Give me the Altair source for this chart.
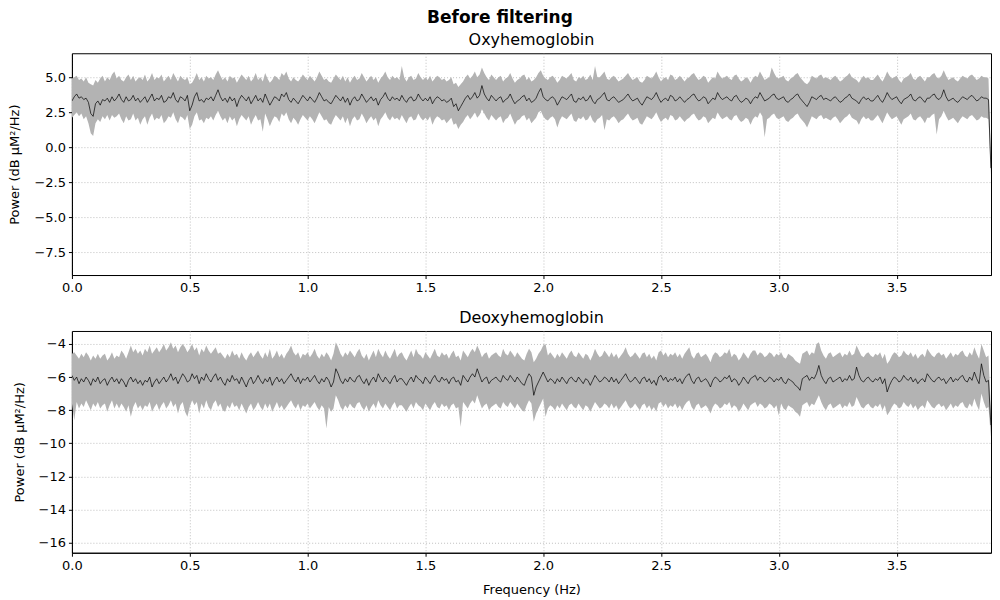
import altair as alt
import pandas as pd

# Power spectral density, one value every 0.01 Hz from 0.00 to 3.90 Hz (dB uM^2/Hz)
# ---------------- Oxyhemoglobin ----------------
oxy_mean = [
    3.3, 3.6, 3.8, 3.5, 3.6, 3.4, 3.5, 3.2, 2.4, 2.2,
    3.1, 3.3, 3.0, 3.4, 3.3, 3.5, 3.2, 3.6, 3.3, 3.5,
    3.8, 3.4, 3.2, 3.6, 3.3, 3.4, 3.7, 3.3, 3.5, 3.2,
    3.4, 3.6, 3.2, 3.5, 3.8, 3.3, 3.5, 3.4, 3.7, 3.2,
    3.3, 3.6, 3.5, 3.9, 3.4, 3.2, 3.6, 3.5, 3.3, 3.7,
    2.6, 3.0, 3.6, 3.9, 3.3, 3.4, 3.2, 3.5, 3.4, 3.6,
    3.3, 3.7, 4.1, 3.6, 3.3, 3.5, 3.2, 3.6, 3.3, 3.5,
    2.9, 3.4, 3.7, 3.5, 3.3, 3.6, 3.1, 3.4, 3.7, 3.3,
    3.5, 3.2, 3.8, 3.4, 3.0, 3.3, 3.6, 3.5, 3.3, 3.8,
    3.6, 3.9, 3.4, 3.2, 3.5, 3.3, 3.1, 3.4, 3.7, 3.5,
    3.3, 3.6, 3.4, 3.2, 3.5, 3.9, 3.6, 3.3, 3.4, 3.2,
    3.1, 3.4, 3.7, 3.5, 3.3, 3.6, 3.2, 3.5, 3.0, 3.4,
    3.6, 3.3, 3.4, 3.8, 3.5, 3.2, 3.4, 3.6, 3.3, 3.5,
    3.0, 3.4, 3.6, 3.9, 3.5, 3.3, 3.6, 3.4, 3.5, 3.3,
    3.7, 3.4, 3.2, 3.5, 3.6, 3.3, 3.4, 3.8, 3.5, 3.3,
    3.5, 3.3, 3.6, 3.1, 3.4, 3.6, 3.5, 3.3, 3.4, 3.2,
    3.3, 3.5, 2.9, 3.1, 2.6, 2.9, 3.2, 3.5, 3.7, 3.4,
    3.6, 3.9, 3.5, 3.7, 4.4, 3.8, 3.5, 3.3, 3.7, 3.5,
    3.3, 3.5, 3.6, 3.2, 3.4, 3.5, 3.8, 3.4, 3.1, 3.3,
    3.4, 3.6, 3.7, 3.3, 3.5, 3.2, 3.3, 3.5, 3.9, 4.2,
    3.6, 3.4, 3.3, 3.5, 3.6, 3.4, 3.0, 3.3, 3.6, 3.5,
    3.4, 3.6, 3.8, 3.3, 3.2, 3.5, 3.4, 3.6, 3.3, 3.4,
    3.7, 3.3, 3.1, 3.4, 3.5, 3.7, 3.9, 3.4, 3.3, 3.5,
    3.6, 3.4, 3.2, 3.3, 3.4, 3.6, 3.8, 3.5, 3.3, 3.4,
    3.5, 3.2, 3.0, 3.3, 3.6, 3.5, 3.4, 3.6, 3.9, 3.5,
    3.2, 3.4, 3.5, 3.3, 3.7, 3.6, 3.3, 3.4, 3.6, 3.4,
    3.2, 3.4, 3.5, 3.7, 3.8, 3.5, 3.3, 3.4, 3.6, 3.5,
    3.1, 3.3, 3.5, 3.4, 3.9, 3.6, 3.4, 3.5, 3.6, 3.4,
    3.3, 3.6, 3.7, 3.4, 3.2, 3.3, 3.5, 3.4, 3.1, 3.4,
    3.6, 3.5, 3.9, 3.6, 3.3, 3.4, 3.5, 3.7, 3.8, 3.5,
    3.4, 3.5, 3.6, 3.3, 3.2, 3.4, 3.5, 3.7, 3.8, 3.5,
    3.3, 3.1, 2.9, 3.2, 3.6, 3.5, 3.4, 3.6, 3.7, 3.4,
    3.5, 3.4, 3.3, 3.5, 3.6, 3.4, 3.2, 3.3, 3.5, 3.6,
    3.8, 3.5, 3.4, 3.3, 3.1, 3.4, 3.6, 3.4, 3.5, 3.3,
    3.3, 3.5, 3.7, 3.4, 3.2, 3.5, 3.9, 3.6, 3.4, 3.5,
    3.6, 3.3, 3.1, 3.4, 3.5, 3.6, 3.8, 3.4, 3.3, 3.5,
    3.6, 3.4, 3.2, 3.5, 3.5, 3.7, 3.8, 3.5, 3.4, 3.6,
    4.1, 3.6, 3.3, 3.4, 3.5, 3.3, 3.2, 3.4, 3.6, 3.5,
    3.4, 3.6, 3.7, 3.5, 3.3, 3.4, 3.6, 3.5, 3.5, 3.4,
    -1.5,
]
oxy_high = [
    4.9, 5.0, 5.1, 4.8, 4.9, 4.7, 5.0, 4.6, 4.5, 4.4,
    4.8, 4.6, 4.9, 5.1, 4.7, 5.0, 4.8, 5.2, 5.4, 4.9,
    5.1, 4.8, 4.7, 5.0, 5.2, 4.8, 5.1, 4.7, 4.9, 5.0,
    4.8, 5.2, 4.7, 4.9, 5.3, 4.8, 5.0, 4.9, 5.2, 4.7,
    4.9, 5.1, 4.8, 5.3, 5.0, 4.7, 5.1, 4.9, 4.8, 5.0,
    4.5, 4.6, 4.9, 5.3, 4.8, 5.0, 4.7, 5.1, 4.9, 5.0,
    4.8, 5.2, 5.5, 5.1, 4.8, 5.0, 4.7, 5.1, 4.9, 5.0,
    4.6, 4.9, 5.2, 5.0, 4.8, 5.1, 4.7, 4.9, 5.3, 4.8,
    5.0, 4.7, 5.3, 4.9, 4.6, 4.8, 5.1, 5.0, 4.8, 5.3,
    5.1, 5.4, 4.9, 4.7, 5.0, 4.8, 4.7, 4.9, 5.2, 5.0,
    4.8, 5.1, 4.9, 4.7, 5.0, 5.4, 5.1, 4.8, 4.9, 4.7,
    4.6, 4.9, 5.2, 5.0, 4.8, 5.1, 4.7, 5.0, 4.6, 4.9,
    5.1, 4.8, 4.9, 5.3, 5.0, 4.7, 4.9, 5.1, 4.8, 5.0,
    4.6, 4.9, 5.1, 5.4, 5.0, 4.8, 5.1, 4.9, 5.0, 4.8,
    5.8, 5.0, 4.7, 5.0, 5.1, 4.8, 4.9, 5.3, 5.0, 4.8,
    5.0, 4.8, 5.1, 4.7, 4.9, 5.1, 5.0, 4.8, 4.9, 4.7,
    4.8, 5.0, 4.5, 4.6, 4.3, 4.5, 4.7, 5.0, 5.2, 4.9,
    5.1, 5.4, 5.0, 5.2, 5.7, 5.3, 5.0, 4.8, 5.2, 5.0,
    4.8, 5.0, 5.1, 4.7, 4.9, 5.0, 5.3, 4.9, 4.6, 4.8,
    4.9, 5.1, 5.2, 4.8, 5.0, 4.7, 4.8, 5.0, 5.3, 5.5,
    5.1, 4.9, 4.8, 5.0, 5.1, 4.9, 4.6, 4.8, 5.1, 5.0,
    4.9, 5.1, 5.3, 4.8, 4.7, 5.0, 4.9, 5.1, 4.8, 4.9,
    5.2, 4.8, 5.8, 5.0, 5.0, 5.2, 5.4, 4.9, 4.8, 5.0,
    5.1, 4.9, 4.7, 4.8, 4.9, 5.1, 5.3, 5.0, 4.8, 4.9,
    5.0, 4.7, 4.6, 4.8, 5.1, 5.0, 4.9, 5.1, 5.4, 5.0,
    4.7, 4.9, 5.0, 4.8, 5.2, 5.1, 4.8, 4.9, 5.1, 4.9,
    4.7, 4.9, 5.0, 5.2, 5.3, 5.0, 4.8, 4.9, 5.1, 5.0,
    4.6, 4.8, 5.0, 4.9, 5.4, 5.1, 4.9, 5.0, 5.1, 4.9,
    4.8, 5.1, 5.2, 4.9, 4.7, 4.8, 5.0, 4.9, 4.6, 4.9,
    5.1, 5.0, 5.4, 5.1, 4.8, 4.9, 5.0, 5.7, 5.3, 5.0,
    4.9, 5.0, 5.1, 4.8, 4.7, 4.9, 5.0, 5.2, 5.3, 5.0,
    4.8, 4.6, 4.5, 4.7, 5.1, 5.0, 4.9, 5.1, 5.2, 4.9,
    5.0, 4.9, 4.8, 5.0, 5.1, 4.9, 4.7, 4.8, 5.0, 5.1,
    5.3, 5.0, 4.9, 4.8, 4.6, 4.9, 5.1, 4.9, 5.0, 4.8,
    4.8, 5.0, 5.2, 4.9, 4.7, 5.0, 5.4, 5.1, 4.9, 5.0,
    5.1, 4.8, 4.6, 4.9, 5.0, 5.1, 5.3, 4.9, 4.8, 5.0,
    5.1, 4.9, 4.7, 5.0, 5.0, 5.2, 5.3, 5.0, 4.9, 5.1,
    5.5, 5.1, 4.8, 4.9, 5.0, 4.8, 4.7, 4.9, 5.1, 5.0,
    4.9, 5.1, 5.2, 5.0, 4.8, 4.9, 5.1, 5.0, 5.0, 4.9,
    -1.0,
]
oxy_low = [
    2.1, 2.3, 2.5, 2.2, 2.4, 2.0, 2.2, 1.7, 1.0, 0.8,
    1.7, 2.0, 1.8, 2.2, 2.0, 2.3, 1.9, 2.3, 2.1, 2.2,
    2.4, 2.0, 1.7, 2.2, 1.9, 2.0, 2.4, 1.9, 2.1, 1.6,
    2.0, 2.2, 1.6, 2.1, 2.4, 1.9, 2.1, 2.0, 2.3, 1.7,
    1.9, 2.2, 2.1, 2.5, 2.0, 1.7, 2.2, 2.1, 1.9, 2.3,
    1.3, 1.6, 2.2, 2.5, 1.9, 2.0, 1.7, 2.1, 2.0, 2.2,
    1.9, 2.3, 2.6, 2.2, 1.9, 2.1, 1.7, 2.2, 1.9, 2.1,
    1.5, 2.0, 2.3, 2.1, 1.9, 2.2, 1.6, 2.0, 2.3, 1.9,
    2.0, 1.1, 2.4, 2.0, 1.5, 1.9, 2.2, 2.1, 1.8, 2.4,
    2.2, 2.5, 2.0, 1.7, 2.1, 1.9, 1.6, 2.0, 2.3, 2.1,
    1.9, 2.2, 2.0, 1.7, 2.1, 2.5, 2.2, 1.9, 2.0, 1.7,
    1.6, 2.0, 2.3, 2.1, 1.9, 2.2, 1.7, 2.1, 1.5, 2.0,
    2.2, 1.9, 2.0, 2.4, 2.1, 1.7, 2.0, 2.2, 1.9, 2.1,
    1.5, 2.0, 2.2, 2.5, 2.1, 1.9, 2.2, 2.0, 2.1, 1.9,
    2.3, 2.0, 1.7, 2.1, 2.2, 1.9, 2.0, 2.4, 2.1, 1.9,
    2.1, 1.9, 2.2, 1.6, 2.0, 2.2, 2.1, 1.9, 2.0, 1.7,
    1.9, 2.1, 1.6, 1.7, 1.3, 1.6, 1.8, 2.1, 2.3, 2.0,
    2.2, 2.5, 2.1, 2.3, 2.7, 2.4, 2.1, 1.9, 2.3, 2.1,
    1.9, 2.1, 2.2, 1.7, 2.0, 2.1, 2.4, 2.0, 1.6, 1.9,
    2.0, 2.2, 2.3, 1.9, 2.1, 1.7, 1.9, 2.1, 2.5, 2.6,
    2.2, 2.0, 1.9, 2.1, 2.2, 2.0, 1.4, 1.9, 2.2, 2.1,
    2.0, 2.2, 2.4, 1.9, 1.8, 2.1, 2.0, 2.2, 1.9, 2.0,
    2.3, 1.9, 1.7, 2.0, 2.1, 2.3, 1.2, 2.0, 1.9, 2.1,
    2.2, 2.0, 1.7, 1.9, 2.0, 2.2, 2.4, 2.1, 1.9, 2.0,
    2.1, 1.7, 1.6, 1.9, 2.2, 2.1, 2.0, 2.2, 2.5, 2.1,
    1.8, 2.0, 2.1, 1.9, 2.3, 2.2, 1.9, 2.0, 2.2, 2.0,
    1.8, 2.0, 2.1, 2.3, 2.4, 2.1, 1.9, 2.0, 2.2, 2.1,
    1.7, 1.9, 2.1, 2.0, 2.5, 2.2, 2.0, 2.1, 2.2, 2.0,
    1.9, 2.2, 2.3, 2.0, 1.8, 1.9, 2.1, 2.0, 1.6, 2.0,
    2.2, 2.1, 2.5, 2.2, 0.7, 2.0, 2.1, 2.3, 2.4, 2.1,
    2.0, 2.1, 2.2, 1.9, 1.8, 2.0, 2.1, 2.3, 2.4, 2.1,
    1.9, 1.7, 1.4, 1.8, 2.2, 2.1, 2.0, 2.2, 2.3, 2.0,
    2.1, 2.0, 1.9, 2.1, 2.2, 2.0, 1.7, 1.9, 2.1, 2.2,
    2.4, 2.1, 2.0, 1.9, 1.6, 2.0, 2.2, 2.0, 2.1, 1.9,
    1.9, 2.1, 2.3, 2.0, 1.7, 2.1, 2.5, 2.2, 2.0, 2.1,
    2.2, 1.9, 1.6, 2.0, 2.1, 2.2, 2.4, 2.0, 1.9, 2.1,
    2.2, 2.0, 1.7, 2.1, 2.1, 2.3, 2.4, 0.9, 2.0, 2.2,
    2.6, 2.2, 1.9, 2.0, 2.1, 1.9, 1.7, 2.0, 2.2, 2.1,
    2.0, 2.2, 2.3, 2.1, 1.9, 2.0, 2.2, 2.1, 2.1, 2.0,
    -2.0,
]

# ---------------- Deoxyhemoglobin ----------------
deoxy_mean = [
    -5.9, -6.2, -6.0, -6.4, -6.1, -6.3, -6.0, -6.2, -6.5, -6.1,
    -6.3, -6.0, -6.4, -6.2, -6.1, -6.5, -6.2, -6.0, -6.3, -6.1,
    -6.4, -6.1, -6.3, -6.6, -6.2, -6.0, -6.3, -6.1, -6.4, -6.2,
    -6.5, -6.2, -6.3, -6.0, -6.6, -6.3, -6.1, -6.4, -6.2, -6.0,
    -6.3, -6.1, -5.8, -6.2, -6.0, -6.4, -6.1, -5.8, -6.0, -6.3,
    -6.2, -5.8, -6.1, -5.9, -6.4, -6.0, -6.2, -5.8, -6.1, -6.3,
    -6.0, -5.8, -6.2, -6.0, -6.3, -6.5, -6.1, -6.3, -5.9, -6.2,
    -6.1, -6.4, -6.0, -6.3, -6.6, -6.2, -6.0, -6.4, -6.2, -5.9,
    -6.2, -6.4, -6.1, -6.3, -6.0, -6.5, -6.2, -6.0, -6.3, -6.1,
    -6.4, -6.2, -6.0, -5.8, -6.1, -6.3, -6.0, -6.4, -6.1, -6.2,
    -6.0, -6.3, -6.1, -5.9, -6.2, -6.4, -6.1, -6.3, -6.0, -6.2,
    -6.6, -6.3, -5.5, -5.8, -6.2, -6.4, -6.1, -6.3, -6.0, -6.2,
    -6.3, -6.0, -5.9, -6.2, -6.4, -6.1, -6.5, -6.2, -6.0, -6.3,
    -5.8, -6.1, -6.3, -6.0, -6.2, -6.4, -6.1, -5.9, -6.3, -6.1,
    -6.1, -6.3, -6.5, -6.2, -6.0, -6.3, -5.9, -6.1, -6.2, -6.4,
    -6.0, -6.2, -6.4, -6.1, -5.9, -6.2, -6.3, -6.0, -6.2, -6.1,
    -6.4, -6.1, -6.0, -6.3, -6.2, -6.5, -5.9, -6.1, -6.3, -6.0,
    -5.8, -6.0, -5.5, -5.9, -6.3, -6.1, -6.0, -6.4, -6.2, -6.1,
    -6.0, -6.2, -6.3, -5.9, -6.1, -6.2, -5.9, -6.1, -6.3, -6.0,
    -6.2, -6.4, -6.5, -6.1, -5.8, -6.0, -7.1, -6.6, -6.3, -6.0,
    -5.7, -6.0, -6.3, -6.1, -6.2, -6.4, -6.1, -6.3, -6.0, -6.2,
    -6.4, -6.1, -6.0, -6.2, -6.3, -6.0, -6.2, -6.4, -6.1, -6.2,
    -6.5, -6.2, -5.9, -6.1, -6.3, -6.2, -6.0, -6.1, -6.3, -6.0,
    -6.3, -6.1, -6.4, -6.2, -6.0, -5.8, -6.1, -6.3, -6.2, -6.0,
    -6.2, -6.4, -6.1, -6.0, -6.3, -6.1, -6.4, -6.2, -6.5, -6.0,
    -5.9, -6.2, -6.0, -6.3, -6.1, -6.2, -6.0, -6.3, -6.1, -6.4,
    -6.1, -5.9, -5.8, -6.2, -6.4, -6.1, -6.0, -6.3, -6.2, -6.1,
    -6.3, -6.6, -6.2, -6.0, -6.1, -6.3, -6.2, -6.0, -6.1, -5.9,
    -6.3, -6.1, -6.2, -6.5, -6.3, -6.0, -6.2, -6.4, -6.1, -6.0,
    -5.9, -6.2, -6.0, -6.1, -6.3, -6.2, -6.0, -6.1, -6.3, -6.1,
    -6.2, -6.0, -6.3, -6.4, -6.1, -6.2, -6.3, -6.5, -6.6, -6.8,
    -6.1, -6.0, -5.9, -6.2, -6.0, -6.1, -5.8, -5.3, -5.9, -6.2,
    -6.4, -6.1, -6.0, -6.3, -6.2, -6.1, -6.0, -6.3, -6.1, -6.2,
    -5.9, -6.2, -6.1, -5.4, -5.9, -6.2, -6.3, -6.1, -6.0, -6.2,
    -6.3, -6.1, -6.2, -6.0, -6.4, -6.1, -6.9, -6.5, -6.2, -6.0,
    -6.1, -6.3, -6.2, -5.9, -6.1, -6.2, -6.0, -6.3, -6.1, -6.4,
    -6.2, -6.1, -6.3, -5.8, -6.0, -6.2, -6.3, -6.1, -6.0, -6.2,
    -6.1, -6.4, -6.2, -6.0, -6.3, -6.1, -6.2, -6.0, -5.9, -6.2,
    -6.3, -6.0, -6.2, -5.7, -6.1, -6.4, -5.2, -5.9, -6.3, -6.2,
    -8.9,
]
deoxy_high = [
    -4.6, -4.5, -4.7, -4.9, -4.6, -4.8, -4.5, -4.7, -5.0, -4.7,
    -4.9, -4.6, -4.9, -4.7, -4.6, -5.0, -4.8, -4.5, -4.9, -4.7,
    -4.8, -4.4, -4.6, -4.9, -4.5, -4.1, -4.5, -4.3, -4.6, -4.4,
    -4.7, -4.3, -4.5, -4.1, -4.6, -4.4, -4.2, -4.5, -4.3, -4.0,
    -4.4, -4.2, -3.9, -4.3, -4.1, -4.5, -4.2, -4.0, -4.2, -4.5,
    -4.3, -4.0, -4.4, -4.2, -4.7, -4.3, -4.5, -4.1, -4.4, -4.6,
    -4.4, -4.2, -4.6, -4.5, -4.7, -4.9, -4.6, -4.8, -4.4, -4.7,
    -4.6, -4.9, -4.5, -4.8, -5.0, -4.7, -4.5, -4.8, -4.6, -4.4,
    -4.7, -4.9, -4.5, -4.8, -4.3, -4.9, -4.7, -4.4, -4.8, -4.6,
    -4.9, -4.6, -4.4, -4.1, -4.5, -4.7, -4.5, -4.9, -4.6, -4.7,
    -4.5, -4.8, -4.6, -4.3, -4.7, -4.9, -4.6, -4.8, -4.5, -4.7,
    -5.0, -4.6, -3.9, -4.2, -4.6, -4.8, -4.5, -4.7, -4.4, -4.6,
    -4.8, -4.5, -4.3, -4.7, -4.9, -4.6, -5.0, -4.7, -4.4, -4.8,
    -4.3, -4.6, -4.8, -4.4, -4.7, -4.9, -4.6, -4.3, -4.8, -4.6,
    -4.5, -4.8, -5.0, -4.7, -4.4, -4.8, -4.3, -4.6, -4.7, -4.9,
    -4.5, -4.7, -4.9, -4.6, -4.3, -4.7, -4.8, -4.5, -4.7, -4.6,
    -4.9, -4.6, -4.4, -4.8, -4.7, -5.0, -4.4, -4.6, -4.8, -4.5,
    -4.3, -4.5, -4.1, -4.4, -4.8, -4.6, -4.5, -4.9, -4.7, -4.6,
    -4.5, -4.7, -4.8, -4.3, -4.6, -4.7, -4.4, -4.6, -4.8, -4.5,
    -4.7, -4.9, -5.0, -4.6, -4.3, -4.5, -5.1, -4.9, -4.6, -4.4,
    -4.1, -4.0, -4.7, -4.5, -4.7, -4.9, -4.6, -4.8, -4.5, -4.7,
    -4.9, -4.6, -4.4, -4.7, -4.8, -4.5, -4.7, -4.9, -4.6, -4.7,
    -5.0, -4.7, -4.3, -4.6, -4.8, -4.7, -4.4, -4.6, -4.8, -4.5,
    -4.8, -4.6, -4.9, -4.7, -4.5, -4.2, -4.6, -4.8, -4.7, -4.5,
    -4.7, -4.9, -4.6, -4.5, -4.8, -4.6, -4.9, -4.7, -5.0, -4.5,
    -4.4, -4.7, -4.5, -4.8, -4.6, -4.7, -4.5, -4.8, -4.6, -4.9,
    -4.6, -4.4, -4.2, -4.7, -4.9, -4.6, -4.5, -4.8, -4.7, -4.6,
    -4.8, -5.1, -4.7, -4.5, -4.6, -4.8, -4.7, -4.5, -4.6, -4.3,
    -4.8, -4.6, -4.7, -5.0, -4.8, -4.5, -4.7, -4.9, -4.6, -4.4,
    -4.4, -4.7, -4.5, -4.6, -4.8, -4.7, -4.5, -4.6, -4.8, -4.6,
    -4.7, -4.5, -4.8, -4.9, -4.6, -4.7, -4.8, -5.0, -5.1, -5.2,
    -4.6, -4.5, -4.4, -4.7, -4.5, -4.6, -4.0, -3.9, -4.4, -4.7,
    -4.9, -4.6, -4.5, -4.8, -4.7, -4.6, -4.5, -4.8, -4.6, -4.7,
    -4.4, -4.7, -4.6, -4.1, -4.4, -4.7, -4.8, -4.6, -4.5, -4.7,
    -4.8, -4.6, -4.7, -4.5, -4.9, -4.6, -5.2, -5.0, -4.7, -4.5,
    -4.6, -4.8, -4.7, -4.4, -4.6, -4.7, -4.5, -4.8, -4.6, -4.9,
    -4.7, -4.6, -4.8, -4.3, -4.5, -4.7, -4.8, -4.6, -4.5, -4.7,
    -4.6, -4.9, -4.7, -4.5, -4.8, -4.6, -4.7, -4.5, -4.4, -4.7,
    -4.8, -4.5, -4.7, -4.2, -4.6, -4.9, -4.0, -4.4, -4.8, -4.7,
    -8.0,
]
deoxy_low = [
    -7.6, -8.6, -7.5, -7.9, -7.6, -7.8, -7.4, -7.7, -8.0, -7.6,
    -7.8, -7.5, -7.9, -7.7, -7.6, -8.1, -7.7, -7.4, -7.9, -7.6,
    -7.9, -7.6, -7.8, -8.1, -7.7, -8.4, -7.8, -7.5, -7.9, -7.7,
    -8.0, -7.7, -7.8, -7.5, -8.1, -7.8, -7.6, -8.0, -7.7, -7.5,
    -7.9, -7.7, -7.4, -7.8, -7.6, -8.2, -7.7, -7.5, -8.1, -8.4,
    -7.8, -7.4, -7.7, -7.5, -8.2, -7.6, -7.9, -7.4, -7.8, -8.0,
    -7.6, -7.4, -7.8, -7.6, -8.0, -8.1, -7.7, -7.9, -7.5, -7.8,
    -7.7, -8.0, -7.6, -7.9, -8.2, -7.8, -7.6, -8.0, -7.8, -7.5,
    -7.8, -8.0, -7.6, -7.9, -7.6, -8.1, -7.8, -7.5, -7.9, -7.7,
    -8.0, -7.8, -7.6, -7.4, -7.7, -7.9, -7.6, -8.0, -7.7, -7.8,
    -7.6, -7.9, -7.7, -7.5, -7.8, -8.0, -7.7, -7.9, -9.1, -7.8,
    -8.1, -7.9, -7.1, -7.4, -7.8, -8.0, -7.7, -7.9, -7.6, -7.8,
    -7.9, -7.6, -7.5, -7.8, -8.0, -7.7, -8.1, -7.8, -7.6, -7.9,
    -7.4, -7.7, -7.9, -7.6, -7.8, -8.0, -7.7, -7.5, -7.9, -7.7,
    -7.7, -7.9, -8.1, -7.8, -7.6, -7.9, -7.5, -7.7, -7.8, -8.0,
    -7.6, -7.8, -8.0, -7.7, -7.5, -7.8, -7.9, -7.6, -7.8, -7.7,
    -8.0, -7.7, -7.6, -7.9, -7.8, -9.0, -7.5, -7.7, -7.9, -7.6,
    -7.4, -7.6, -7.1, -7.5, -7.9, -7.7, -7.6, -8.0, -7.8, -7.7,
    -7.6, -7.8, -7.9, -7.5, -7.7, -7.8, -7.5, -7.7, -7.9, -7.6,
    -7.8, -8.0, -8.1, -7.7, -7.4, -7.6, -8.7, -8.2, -7.9, -7.6,
    -7.3, -8.4, -7.9, -7.7, -7.8, -8.0, -7.7, -7.9, -7.6, -7.8,
    -8.0, -7.7, -7.6, -7.8, -7.9, -7.6, -7.8, -8.0, -7.7, -7.8,
    -8.1, -7.8, -7.5, -7.7, -7.9, -7.8, -7.6, -7.7, -7.9, -7.6,
    -7.9, -7.7, -8.0, -7.8, -7.6, -7.4, -7.7, -7.9, -7.8, -7.6,
    -7.8, -8.0, -7.7, -7.6, -7.9, -7.7, -8.0, -7.8, -8.1, -7.6,
    -7.5, -7.8, -7.6, -7.9, -7.7, -7.8, -7.6, -7.9, -7.7, -8.0,
    -7.7, -7.5, -7.4, -7.8, -8.0, -7.7, -7.6, -7.9, -7.8, -7.7,
    -7.9, -8.2, -7.8, -7.6, -7.7, -7.9, -7.8, -7.6, -7.7, -7.5,
    -7.9, -7.7, -7.8, -8.1, -7.9, -7.6, -7.8, -8.0, -7.7, -7.6,
    -7.5, -7.8, -7.6, -7.7, -7.9, -7.8, -7.6, -7.7, -7.9, -7.7,
    -8.3, -7.6, -7.9, -8.0, -7.7, -7.8, -7.9, -8.1, -8.2, -8.4,
    -7.7, -7.6, -7.5, -7.8, -7.6, -7.7, -7.4, -7.1, -7.5, -7.8,
    -8.0, -7.7, -7.6, -7.9, -7.8, -7.7, -7.6, -7.9, -7.7, -7.8,
    -7.5, -7.8, -7.7, -7.2, -7.5, -7.8, -7.9, -7.7, -7.6, -7.8,
    -7.9, -7.7, -7.8, -7.6, -8.0, -7.7, -8.3, -8.1, -7.8, -7.6,
    -7.7, -7.9, -7.8, -7.5, -7.7, -7.8, -7.6, -7.9, -7.7, -8.0,
    -7.8, -7.7, -7.9, -7.4, -7.6, -7.8, -7.9, -7.7, -7.6, -7.8,
    -7.7, -8.0, -7.8, -7.6, -7.9, -7.7, -7.8, -7.6, -7.5, -7.8,
    -7.9, -7.6, -7.8, -7.3, -7.7, -8.0, -7.0, -7.5, -7.9, -7.8,
    -9.6,
]

FREQ_STEP = 0.01
n = len(oxy_mean)
assert all(len(a) == n for a in [oxy_high, oxy_low, deoxy_mean, deoxy_high, deoxy_low])
freqs = [round(i * FREQ_STEP, 2) for i in range(n)]

x_ticks = [0.0, 0.5, 1.0, 1.5, 2.0, 2.5, 3.0, 3.5]
oxy_ticks = [-7.5, -5.0, -2.5, 0.0, 2.5, 5.0]
deoxy_ticks = [-16, -14, -12, -10, -8, -6, -4]

FONT = "DejaVu Sans"
Y_TITLE = "Power (dB μM²/Hz)"
PANEL_W = 920
PANEL_H = 222


def panel(name, mean, lo, hi, ydom, yticks, yfmt, xtitle):
    df = pd.DataFrame({"f": freqs, "m": mean, "lo": lo, "hi": hi})
    if xtitle:
        xaxis = alt.Axis(values=x_ticks, format=".1f", title=xtitle, labelFlush=False)
    else:
        xaxis = alt.Axis(values=x_ticks, format=".1f", title=None, labelFlush=False)
    x = alt.X("f:Q", scale=alt.Scale(domain=[0, 3.9006], nice=False, zero=False), axis=xaxis)
    yscale = alt.Scale(domain=ydom, nice=False, zero=False)
    yaxis = alt.Axis(values=yticks, format=yfmt, title=Y_TITLE,
                     labelOverlap=False, labelFlush=False)
    band = alt.Chart(df).mark_area(color="#b3b3b3", opacity=1, clip=True).encode(
        x=x,
        y=alt.Y("lo:Q", scale=yscale, axis=yaxis),
        y2="hi:Q",
    )
    line = alt.Chart(df).mark_line(color="black", strokeWidth=0.7, clip=True).encode(
        x=x,
        y=alt.Y("m:Q", scale=yscale, axis=yaxis),
    )
    return alt.layer(band, line).properties(
        width=PANEL_W, height=PANEL_H,
        title=alt.TitleParams(name, fontSize=16, fontWeight="normal", font=FONT,
                              anchor="middle", offset=5, color="black"),
    )


top = panel("Oxyhemoglobin", oxy_mean, oxy_low, oxy_high, [-9.14, 6.71], oxy_ticks, ".1f", None)
bottom = panel("Deoxyhemoglobin", deoxy_mean, deoxy_low, deoxy_high, [-16.6, -3.22], deoxy_ticks, "d",
               "Frequency (Hz)")

chart = alt.vconcat(top, bottom, spacing=14).properties(
    title=alt.TitleParams("Before filtering", fontSize=17, fontWeight="bold", font=FONT,
                          anchor="middle", offset=5, color="black"),
    padding={"left": 0, "top": 0, "right": 0, "bottom": 0},
).configure(font=FONT).configure_axis(
    labelFont=FONT, titleFont=FONT, labelFontSize=13, titleFontSize=13,
    labelColor="black", titleColor="black", titleFontWeight="normal",
    domainColor="black", tickColor="black", tickSize=3.5, labelPadding=3,
    gridColor="#b0b0b0", gridDash=[1, 2], gridWidth=0.8, domain=True,
).configure_axisY(titlePadding=12).configure_axisX(titlePadding=11).configure_view(
    stroke="black", strokeWidth=1
)

chart.save("out.html", embed_options={"renderer": "svg", "actions": False})
